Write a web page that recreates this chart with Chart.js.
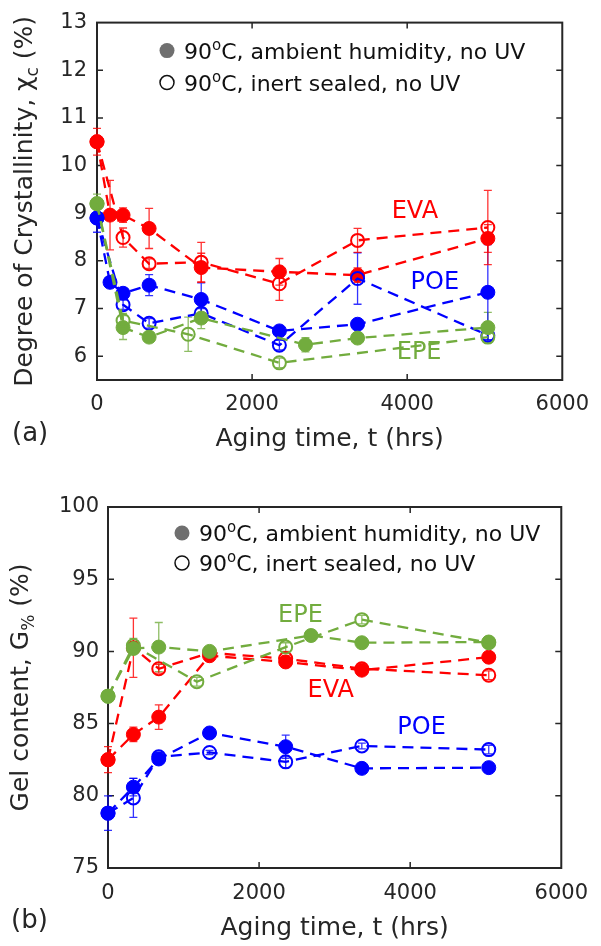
<!DOCTYPE html>
<html>
<head>
<meta charset="utf-8">
<script src="https://cdn.jsdelivr.net/npm/chart.js@4.4.1/dist/chart.umd.min.js"></script>
<style>
body { margin: 0; background: #fff; }
canvas { display: block; }
</style>
</head>
<body>
<canvas id="cryst" width="601" height="473"></canvas>
<canvas id="gel" width="601" height="473"></canvas>
<script>
// ================= tick labels =================
const hourTicks = [0, 2000, 4000, 6000];
const crystTicks = [6, 7, 8, 9, 10, 11, 12, 13];
const gelTicks = [75, 80, 85, 90, 95, 100];

// ================= (a) crystallinity =================
const evaAmbHrsA = [0, 168, 336, 672, 1344, 2352, 3360, 5040];
const evaAmbCryst = [10.5, 8.96, 8.96, 8.68, 7.86, 7.77, 7.7, 8.47];
const evaAmbCrystErr = [0.28, 0.73, 0.15, 0.42, 0.3, 0.28, 0.15, 0.29];
const evaSealHrsA = [0, 336, 672, 1344, 2352, 3360, 5040];
const evaSealCryst = [10.5, 8.49, 7.94, 7.97, 7.52, 8.43, 8.7];
const evaSealCrystErr = [0, 0.2, 0.1, 0.42, 0.35, 0.25, 0.78];

const poeAmbHrsA = [0, 168, 336, 672, 1344, 2352, 3360, 5040];
const poeAmbCryst = [8.9, 7.55, 7.32, 7.49, 7.19, 6.53, 6.67, 7.34];
const poeAmbCrystErr = [0.3, 0.1, 0.1, 0.22, 0.35, 0.1, 0.1, 1.0];
const poeSealHrsA = [0, 336, 672, 1344, 2352, 3360, 5040];
const poeSealCryst = [8.9, 7.08, 6.69, 6.9, 6.23, 7.63, 6.44];
const poeSealCrystErr = [0, 0.1, 0.1, 0.1, 0.1, 0.54, 0.1];

const epeAmbHrsA = [0, 336, 672, 1344, 2688, 3360, 5040];
const epeAmbCryst = [9.2, 6.6, 6.4, 6.8, 6.24, 6.38, 6.6];
const epeAmbCrystErr = [0.2, 0.25, 0.1, 0.22, 0.15, 0.08, 0.32];
const epeSealHrsA = [0, 336, 1176, 2352, 5040];
const epeSealCryst = [9.2, 6.75, 6.46, 5.86, 6.4];
const epeSealCrystErr = [0, 0.15, 0.36, 0.1, 0.1];

// ================= (b) gel content =================
const evaAmbHrsB = [0, 336, 672, 1344, 2352, 3360, 5040];
const evaAmbGel = [82.5, 84.25, 85.45, 89.7, 89.27, 88.7, 89.6];
const evaAmbGelErr = [0.9, 0.5, 0.85, 0.3, 0.2, 0.1, 0.1];
const evaSealHrsB = [0, 336, 672, 1344, 2352, 3360, 5040];
const evaSealGel = [82.5, 90.25, 88.8, 89.9, 89.5, 88.8, 88.35];
const evaSealGelErr = [0, 2.05, 0.3, 0.3, 0.2, 0.1, 0.3];

const poeAmbHrsB = [0, 336, 672, 1344, 2352, 3360, 5040];
const poeAmbGel = [78.8, 80.6, 82.55, 84.35, 83.4, 81.9, 81.95];
const poeAmbGelErr = [1.2, 0.6, 0.3, 0.2, 0.8, 0.1, 0.1];
const poeSealHrsB = [0, 336, 672, 1344, 2352, 3360, 5040];
const poeSealGel = [78.8, 79.85, 82.7, 83.0, 82.35, 83.45, 83.2];
const poeSealGelErr = [0, 1.35, 0.3, 0.15, 0.4, 0.2, 0.3];

const epeAmbHrsB = [0, 336, 672, 1344, 2688, 3360, 5040];
const epeAmbGel = [86.9, 90.2, 90.3, 90.0, 91.1, 90.6, 90.65];
const epeAmbGelErr = [0.2, 0.3, 1.7, 0.2, 0.15, 0.2, 0.2];
const epeSealHrsB = [0, 336, 1176, 2352, 3360, 5040];
const epeSealGel = [86.9, 90.4, 87.9, 90.3, 92.2, 90.6];
const epeSealGelErr = [0, 0.5, 0.3, 0.3, 0.3, 0.2];

const RED = '#ff0000';
const BLUE = '#0000ff';
const GREEN = '#72ac3e';
const INK = '#262626';
const FONT = '"DejaVu Sans", sans-serif';

function series(hrs, vals, errs, color, open) {
	return {
		data: hrs.map((t, i) => ({ x: t, y: vals[i] })),
		errors: errs,
		showLine: true,
		borderColor: color,
		backgroundColor: color,
		borderWidth: 2.3,
		borderDash: [11, 7],
		pointRadius: open ? 6.5 : 7,
		pointBorderWidth: open ? 2 : 1,
		pointBorderColor: color,
		pointBackgroundColor: open ? 'rgba(255,255,255,0)' : color,
		clip: false,
	};
}

// text with superscript / subscript parts
function richText(ctx, parts, x, y, size, align) {
	const seg = parts.map(([t, m]) => {
		const s = m ? Math.round(size * 0.66) : size;
		ctx.font = s + 'px ' + FONT;
		return { t, m, s, w: ctx.measureText(t).width };
	});
	const total = seg.reduce((a, b) => a + b.w, 0);
	let cx = align === 'center' ? x - total / 2 : x;
	ctx.textAlign = 'left';
	ctx.textBaseline = 'alphabetic';
	seg.forEach((p) => {
		ctx.font = p.s + 'px ' + FONT;
		const dy = p.m === 'sup' ? -size * 0.4 : p.m === 'sub' ? size * 0.24 : 0;
		ctx.fillText(p.t, cx, y + dy);
		cx += p.w;
	});
}

const decor = {
	id: 'decor',
	beforeDatasetsDraw(chart, args, o) {
		const { ctx, chartArea: a, scales } = chart;
		const x = scales.x;
		const y = scales.y;
		ctx.save();
		// box with inward ticks
		ctx.strokeStyle = INK;
		ctx.lineWidth = 2;
		ctx.strokeRect(a.left, a.top, a.right - a.left, a.bottom - a.top);
		ctx.lineWidth = 1.5;
		ctx.beginPath();
		x.ticks.forEach((t) => {
			const px = x.getPixelForValue(t.value);
			if (px <= a.left + 1 || px >= a.right - 1) return;
			ctx.moveTo(px, a.bottom);
			ctx.lineTo(px, a.bottom - 6);
			ctx.moveTo(px, a.top);
			ctx.lineTo(px, a.top + 6);
		});
		y.ticks.forEach((t) => {
			const py = y.getPixelForValue(t.value);
			if (py <= a.top + 1 || py >= a.bottom - 1) return;
			ctx.moveTo(a.left, py);
			ctx.lineTo(a.left + 6, py);
			ctx.moveTo(a.right, py);
			ctx.lineTo(a.right - 6, py);
		});
		ctx.stroke();
		// error bars
		chart.data.datasets.forEach((ds) => {
			ctx.strokeStyle = ds.borderColor;
			ctx.globalAlpha = 0.8;
			ctx.lineWidth = 1.3;
			ds.data.forEach((p, j) => {
				const e = ds.errors[j];
				if (!e) return;
				const px = x.getPixelForValue(p.x);
				const top = y.getPixelForValue(p.y + e);
				const bot = y.getPixelForValue(p.y - e);
				ctx.beginPath();
				ctx.moveTo(px, top);
				ctx.lineTo(px, bot);
				ctx.moveTo(px - 4, top);
				ctx.lineTo(px + 4, top);
				ctx.moveTo(px - 4, bot);
				ctx.lineTo(px + 4, bot);
				ctx.stroke();
			});
		});
		ctx.restore();
	},
	afterDraw(chart, args, o) {
		const { ctx, chartArea: a, scales } = chart;
		ctx.save();
		// legend
		const lx = a.left + o.legend[0];
		const ly = a.top + o.legend[1];
		ctx.fillStyle = '#6f6f6f';
		ctx.beginPath();
		ctx.arc(lx, ly, 7.5, 0, Math.PI * 2);
		ctx.fill();
		ctx.strokeStyle = '#111';
		ctx.lineWidth = 1.5;
		ctx.beginPath();
		ctx.arc(lx, ly + o.legend[2], 7, 0, Math.PI * 2);
		ctx.stroke();
		ctx.fillStyle = '#111';
		richText(ctx, [['90'], ['o', 'sup'], ['C, ambient humidity, no UV']], lx + 17, ly + 8, 22);
		richText(ctx, [['90'], ['o', 'sup'], ['C, inert sealed, no UV']], lx + 17, ly + o.legend[2] + 8, 22);
		// series names
		o.names.forEach(([t, c, hx, vy]) => {
			ctx.fillStyle = c;
			ctx.font = '24px ' + FONT;
			ctx.textAlign = 'center';
			ctx.textBaseline = 'middle';
			ctx.fillText(t, scales.x.getPixelForValue(hx), scales.y.getPixelForValue(vy));
		});
		// axis titles
		ctx.fillStyle = INK;
		richText(ctx, [['Aging time, t (hrs)']], (a.left + a.right) / 2, o.xTitleY, 25, 'center');
		ctx.save();
		ctx.translate(o.yTitleX, (a.top + a.bottom) / 2);
		ctx.rotate(-Math.PI / 2);
		richText(ctx, o.yTitle, 0, 0, 25, 'center');
		ctx.restore();
		richText(ctx, [[o.panel]], o.panelPos[0], o.panelPos[1], 26);
		ctx.restore();
	},
};

function makeChart(canvas, datasets, cfg) {
	return new Chart(canvas, {
		type: 'scatter',
		data: { datasets },
		plugins: [decor],
		options: {
			responsive: false,
			animation: false,
			events: [],
			layout: { padding: { top: cfg.top, right: 29, left: 0, bottom: 0 } },
			plugins: {
				legend: { display: false },
				tooltip: { enabled: false },
				decor: cfg.decor,
			},
			scales: {
				x: {
					type: 'linear',
					min: 0,
					max: 6000,
					grid: { display: false, drawTicks: false },
					border: { display: false },
					afterBuildTicks: (s) => {
						s.ticks = hourTicks.map((v) => ({ value: v }));
					},
					afterFit: (s) => {
						s.height = cfg.xHeight;
					},
					ticks: {
						padding: cfg.xPad,
						autoSkip: false,
						maxRotation: 0,
						color: INK,
						font: { family: FONT, size: 21 },
						callback: (v) => String(v),
					},
				},
				y: {
					type: 'linear',
					min: cfg.yMin,
					max: cfg.yMax,
					grid: { display: false, drawTicks: false },
					border: { display: false },
					afterBuildTicks: (s) => {
						s.ticks = cfg.yTicks.map((v) => ({ value: v }));
					},
					afterFit: (s) => {
						s.width = cfg.yWidth;
					},
					ticks: {
						padding: cfg.yPad,
						color: INK,
						font: { family: FONT, size: 21 },
						callback: (v) => String(v),
					},
				},
			},
		},
	});
}

// ----- panel (a)
makeChart(
	document.getElementById('cryst'),
	[
		series(epeSealHrsA, epeSealCryst, epeSealCrystErr, GREEN, true),
		series(epeAmbHrsA, epeAmbCryst, epeAmbCrystErr, GREEN, false),
		series(poeSealHrsA, poeSealCryst, poeSealCrystErr, BLUE, true),
		series(poeAmbHrsA, poeAmbCryst, poeAmbCrystErr, BLUE, false),
		series(evaSealHrsA, evaSealCryst, evaSealCrystErr, RED, true),
		series(evaAmbHrsA, evaAmbCryst, evaAmbCrystErr, RED, false),
	],
	{
		top: 22,
		xHeight: 93,
		yWidth: 97,
		xPad: 12,
		yPad: 10,
		yMin: 5.5,
		yMax: 13,
		yTicks: crystTicks,
		decor: {
			legend: [70, 28, 32],
			names: [
				['EVA', RED, 4100, 9.02],
				['POE', BLUE, 4356, 7.55],
				['EPE', GREEN, 4154, 6.08],
			],
			xTitleY: 446,
			yTitleX: 32,
			yTitle: [['Degree of Crystallinity, \u03c7'], ['c', 'sub'], [' (%)']],
			panel: '(a)',
			panelPos: [12, 441],
		},
	}
);

// ----- panel (b)
makeChart(
	document.getElementById('gel'),
	[
		series(epeSealHrsB, epeSealGel, epeSealGelErr, GREEN, true),
		series(epeAmbHrsB, epeAmbGel, epeAmbGelErr, GREEN, false),
		series(poeSealHrsB, poeSealGel, poeSealGelErr, BLUE, true),
		series(poeAmbHrsB, poeAmbGel, poeAmbGelErr, BLUE, false),
		series(evaSealHrsB, evaSealGel, evaSealGelErr, RED, true),
		series(evaAmbHrsB, evaAmbGel, evaAmbGelErr, RED, false),
	],
	{
		top: 34,
		xHeight: 78,
		yWidth: 108,
		xPad: 13,
		yPad: 9,
		yMin: 75,
		yMax: 100,
		yTicks: gelTicks,
		decor: {
			legend: [74, 26, 30],
			names: [
				['EPE', GREEN, 2548, 92.45],
				['EVA', RED, 2948, 87.26],
				['POE', BLUE, 4151, 84.7],
			],
			xTitleY: 462,
			yTitleX: 28,
			yTitle: [['Gel content, G'], ['%', 'sub'], [' (%)']],
			panel: '(b)',
			panelPos: [11, 455],
		},
	}
);
</script>
</body>
</html>
